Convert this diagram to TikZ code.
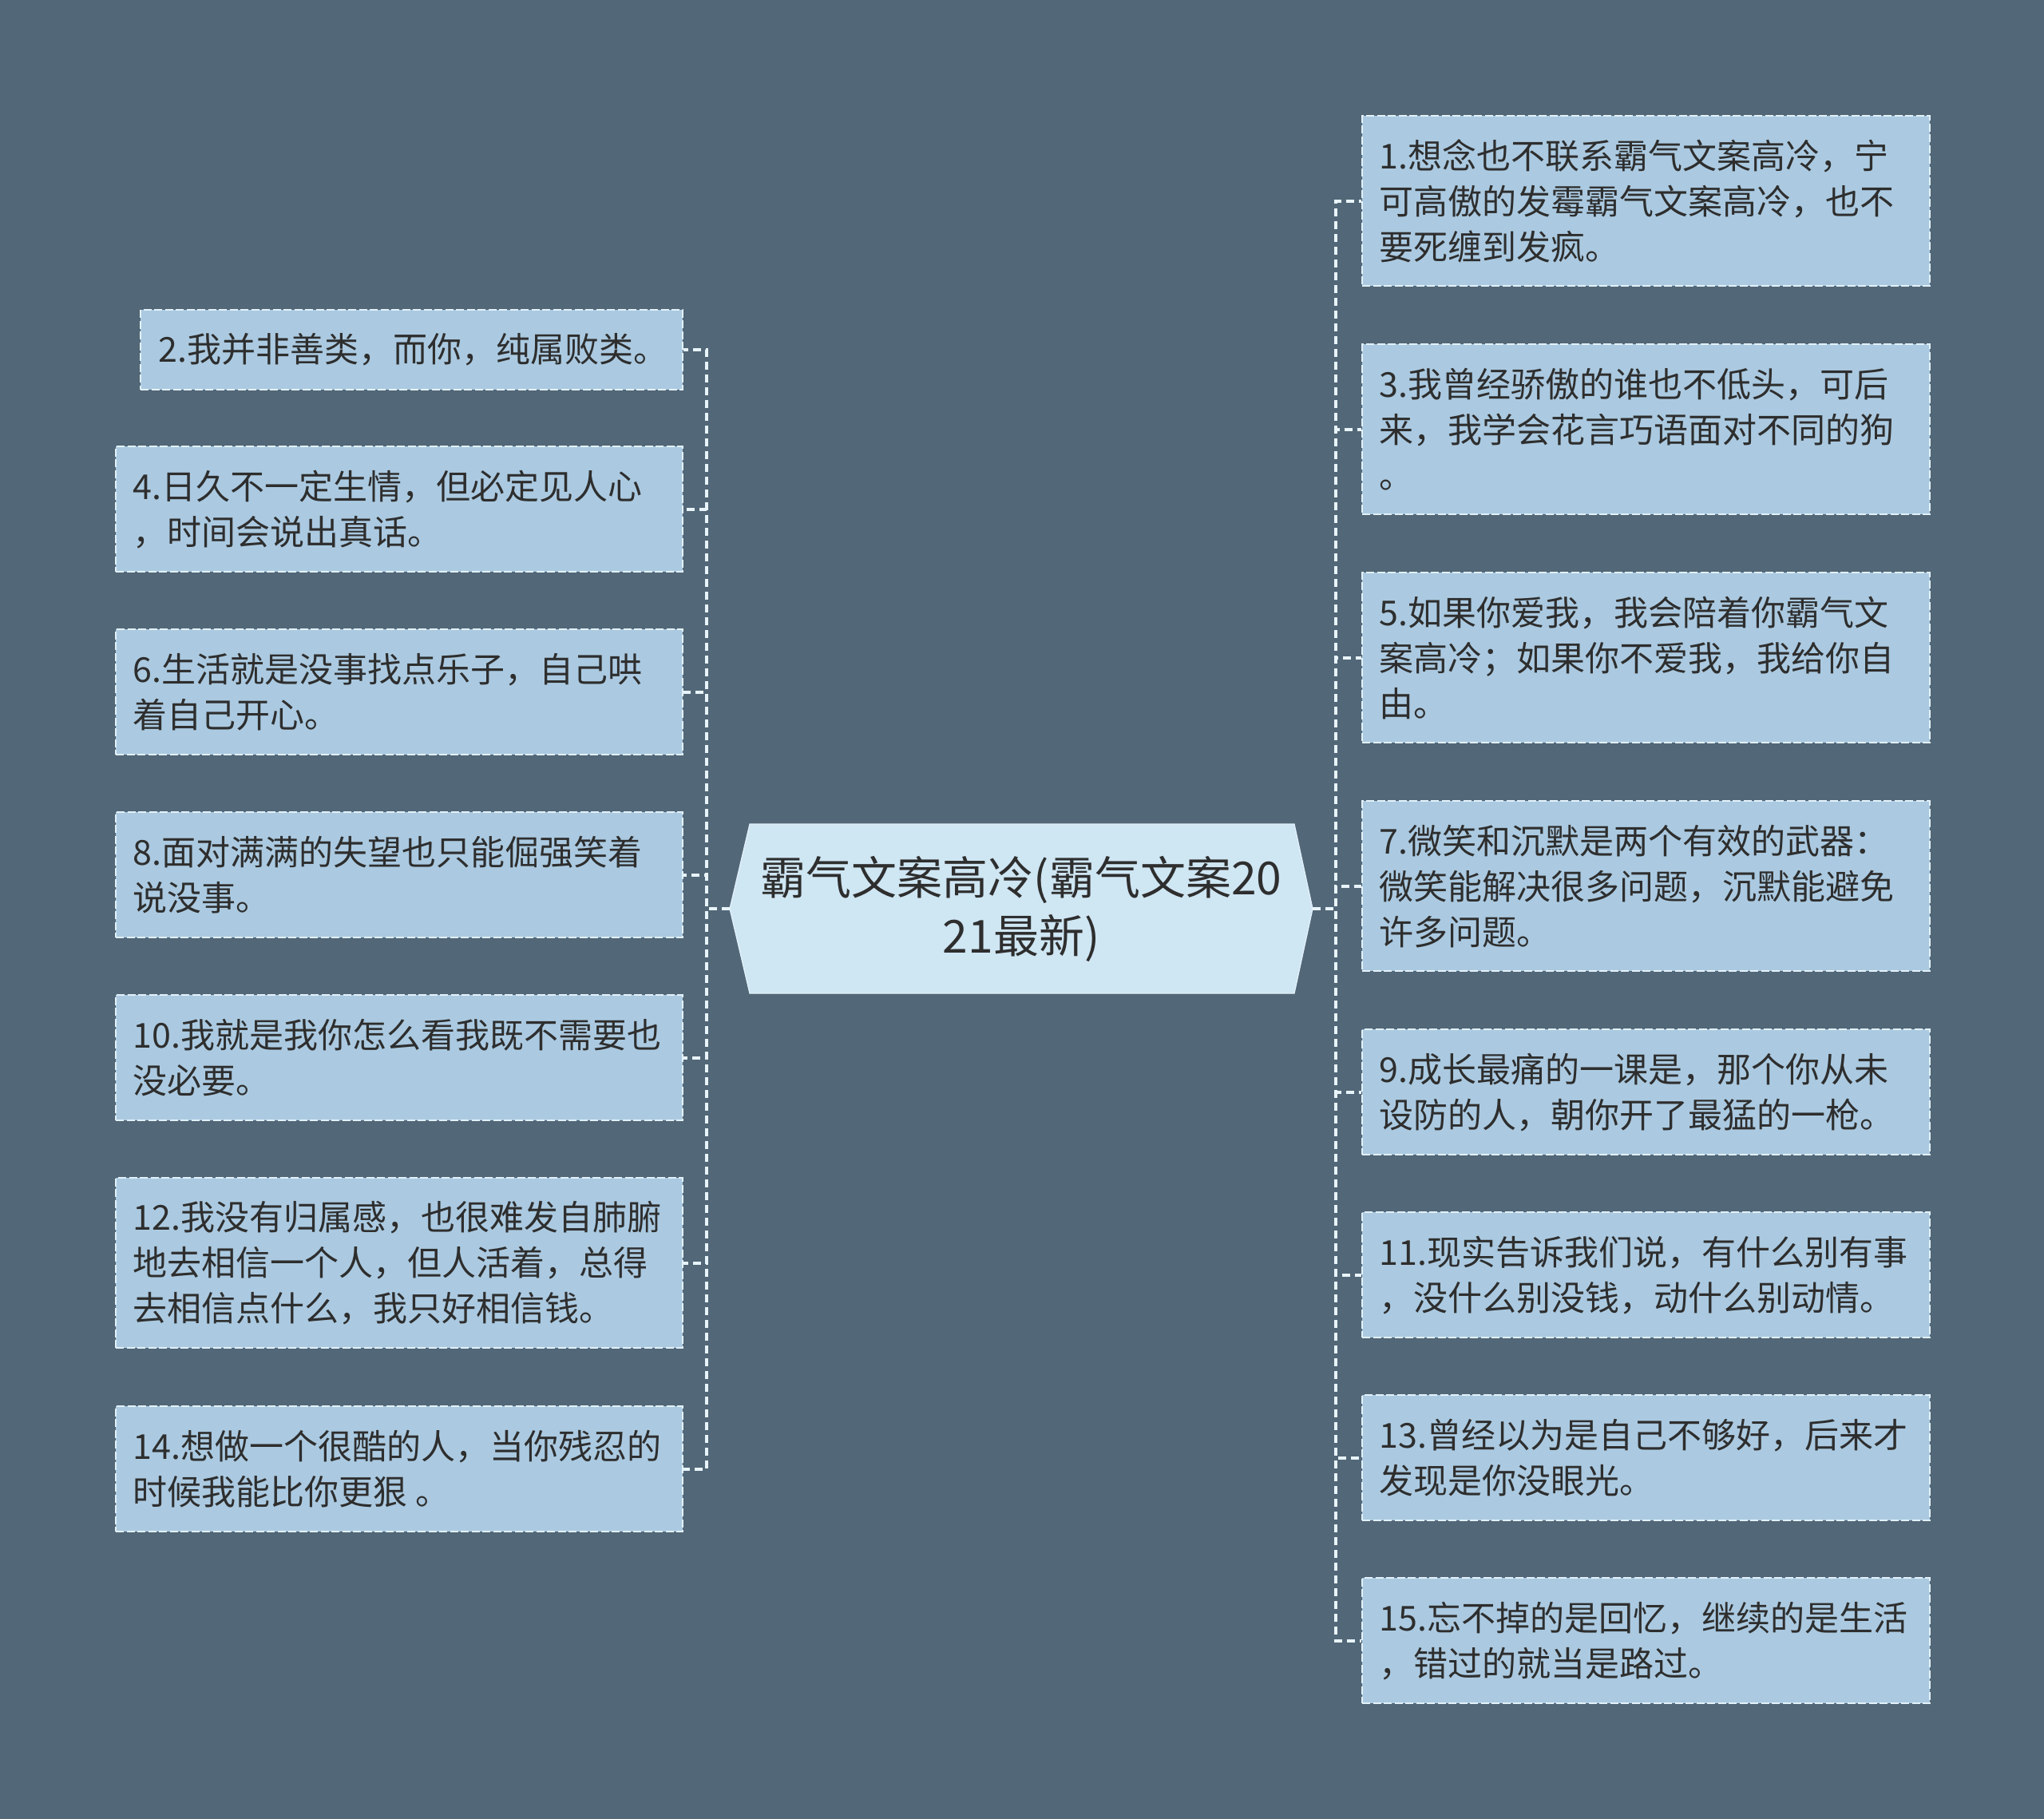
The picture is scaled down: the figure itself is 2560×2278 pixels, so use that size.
\documentclass[tikz,border=0pt]{standalone}
\usepackage{fontspec}
\setmainfont{Noto Sans CJK SC}
\definecolor{bgc}{HTML}{526777}
\definecolor{boxfill}{HTML}{ABCAE1}
\definecolor{boxline}{HTML}{E2F1FA}
\definecolor{hexfill}{HTML}{CFE6F3}
\definecolor{conncol}{HTML}{E8F4FB}
\definecolor{txtc}{HTML}{2E2E2E}
\tikzset{
  box/.style={draw=boxline, fill=boxfill, line width=0.9pt, dash pattern=on 4pt off 1.4pt,
    anchor=north west, inner sep=0pt},
  txt/.style={anchor=west, align=left, inner sep=0pt, text=txtc,
    font=\fontsize{17.2pt}{22.8pt}\selectfont},
  ctxt/.style={align=center, inner sep=0pt, text=txtc,
    font=\fontsize{22.8pt}{29.2pt}\selectfont},
  conn/.style={draw=conncol, line width=1.6pt, dash pattern=on 4pt off 2.4pt},
}
\begin{document}
\begin{tikzpicture}[x=0.4pt,y=-0.4pt]
\fill[bgc] (0,0) rectangle (2560,2278);
\useasboundingbox (0,0) rectangle (2560,2278);

% centre
\fill[hexfill, draw=boxline, line width=0.5pt] (914,1138) -- (939,1032) -- (1621,1032) -- (1644,1138) -- (1621,1244) -- (939,1244) -- cycle;
\node[ctxt] (c) at (1279,1138) {霸气文案高冷(霸气文案20\\21最新)};
\coordinate (cl) at (914,1138);
\coordinate (cr) at (1644,1138);
\coordinate (lsp) at (885,1138);
\coordinate (rsp) at (1673,1138);

% right boxes
\node[box, minimum width=711*0.4pt, minimum height=213*0.4pt] (b1) at (1705,144) {};
\node[txt] (t1) at ([xshift=8.8pt]b1.west) {1.想念也不联系霸气文案高冷，宁\\可高傲的发霉霸气文案高冷，也不\\要死缠到发疯。};
\node[box, minimum width=711*0.4pt, minimum height=213*0.4pt] (b3) at (1705,430) {};
\node[txt] (t3) at ([xshift=8.8pt]b3.west) {3.我曾经骄傲的谁也不低头，可后\\来，我学会花言巧语面对不同的狗\\。};
\node[box, minimum width=711*0.4pt, minimum height=213*0.4pt] (b5) at (1705,716) {};
\node[txt] (t5) at ([xshift=8.8pt]b5.west) {5.如果你爱我，我会陪着你霸气文\\案高冷；如果你不爱我，我给你自\\由。};
\node[box, minimum width=711*0.4pt, minimum height=213*0.4pt] (b7) at (1705,1002) {};
\node[txt] (t7) at ([xshift=8.8pt]b7.west) {7.微笑和沉默是两个有效的武器：\\微笑能解决很多问题，沉默能避免\\许多问题。};
\node[box, minimum width=711*0.4pt, minimum height=157*0.4pt] (b9) at (1705,1288) {};
\node[txt] (t9) at ([xshift=8.8pt]b9.west) {9.成长最痛的一课是，那个你从未\\设防的人，朝你开了最猛的一枪。};
\node[box, minimum width=711*0.4pt, minimum height=157*0.4pt] (b11) at (1705,1517) {};
\node[txt] (t11) at ([xshift=8.8pt]b11.west) {11.现实告诉我们说，有什么别有事\\，没什么别没钱，动什么别动情。};
\node[box, minimum width=711*0.4pt, minimum height=157*0.4pt] (b13) at (1705,1746) {};
\node[txt] (t13) at ([xshift=8.8pt]b13.west) {13.曾经以为是自己不够好，后来才\\发现是你没眼光。};
\node[box, minimum width=711*0.4pt, minimum height=157*0.4pt] (b15) at (1705,1975) {};
\node[txt] (t15) at ([xshift=8.8pt]b15.west) {15.忘不掉的是回忆，继续的是生活\\，错过的就当是路过。};

% left boxes
\node[box, minimum width=679*0.4pt, minimum height=100*0.4pt] (b2) at (175,387) {};
\node[txt] (t2) at ([xshift=9.2pt]b2.west) {2.我并非善类，而你，纯属败类。};
\node[box, minimum width=710*0.4pt, minimum height=157*0.4pt] (b4) at (144,558) {};
\node[txt] (t4) at ([xshift=8.8pt]b4.west) {4.日久不一定生情，但必定见人心\\，时间会说出真话。};
\node[box, minimum width=710*0.4pt, minimum height=157*0.4pt] (b6) at (144,787) {};
\node[txt] (t6) at ([xshift=8.8pt]b6.west) {6.生活就是没事找点乐子，自己哄\\着自己开心。};
\node[box, minimum width=710*0.4pt, minimum height=157*0.4pt] (b8) at (144,1016) {};
\node[txt] (t8) at ([xshift=8.8pt]b8.west) {8.面对满满的失望也只能倔强笑着\\说没事。};
\node[box, minimum width=710*0.4pt, minimum height=157*0.4pt] (b10) at (144,1245) {};
\node[txt] (t10) at ([xshift=8.8pt]b10.west) {10.我就是我你怎么看我既不需要也\\没必要。};
\node[box, minimum width=710*0.4pt, minimum height=213*0.4pt] (b12) at (144,1474) {};
\node[txt] (t12) at ([xshift=8.8pt]b12.west) {12.我没有归属感，也很难发自肺腑\\地去相信一个人，但人活着，总得\\去相信点什么，我只好相信钱。};
\node[box, minimum width=710*0.4pt, minimum height=157*0.4pt] (b14) at (144,1760) {};
\node[txt] (t14) at ([xshift=8.8pt]b14.west) {14.想做一个很酷的人，当你残忍的\\时候我能比你更狠 。};

% connectors
\foreach \b in {b2,b4,b6,b8,b10,b12,b14}{
  \draw[conn] (cl) -- (lsp) |- (\b.east);
}
\foreach \b in {b1,b3,b5,b7,b9,b11,b13,b15}{
  \draw[conn] (cr) -- (rsp) |- (\b.west);
}
\end{tikzpicture}
\end{document}
